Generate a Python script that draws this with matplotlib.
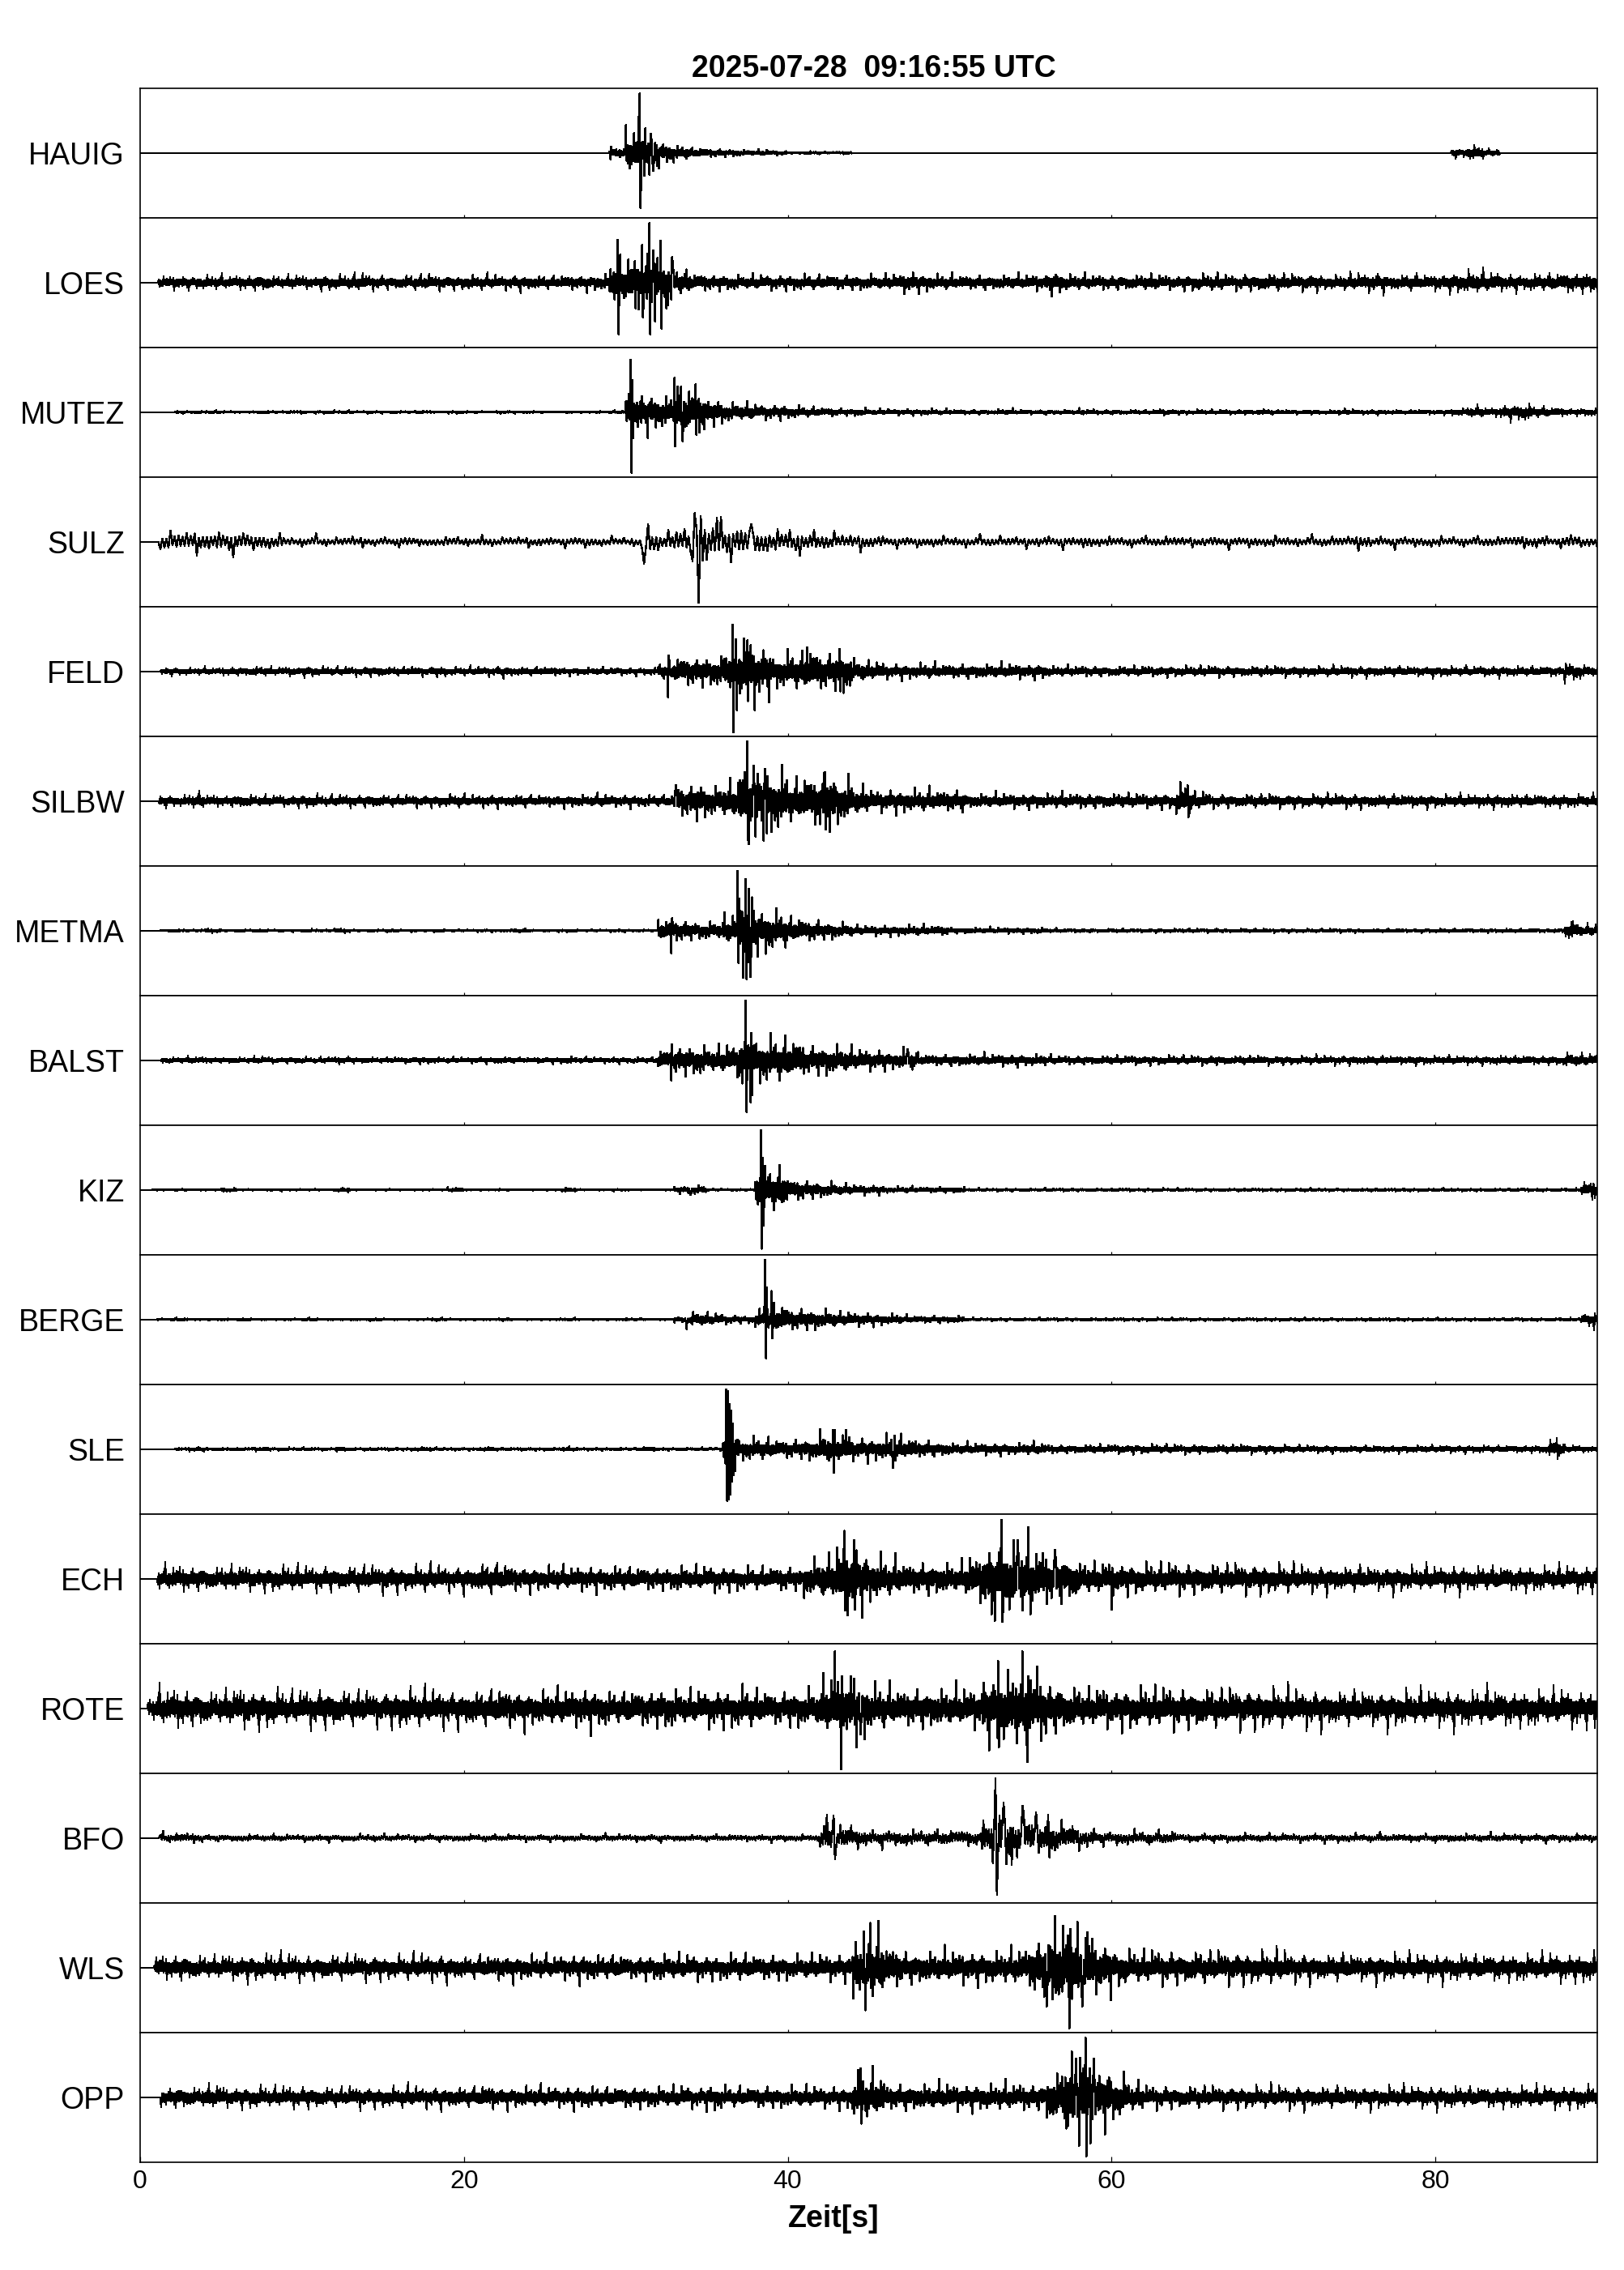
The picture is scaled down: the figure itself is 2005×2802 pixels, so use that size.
import numpy as np
import matplotlib
matplotlib.use('Agg')
from matplotlib import pyplot as plt

plt.rcParams['font.family'] = ['Liberation Sans', 'DejaVu Sans']

TITLE = '2025-07-28  09:16:55 UTC'
XLABEL = 'Zeit[s]'
XTICKS = [0, 20, 40, 60, 80]

stations = ['HAUIG', 'LOES', 'MUTEZ', 'SULZ', 'FELD', 'SILBW', 'METMA', 'BALST',
            'KIZ', 'BERGE', 'SLE', 'ECH', 'ROTE', 'BFO', 'WLS', 'OPP']

# time where each trace starts (flat before)
t_start = [0.0, 1.15, 2.2, 1.2, 1.3, 1.2, 1.3, 1.3, 0.8, 1.0, 2.2, 1.1, 0.5, 1.2, 0.9, 1.3]
# samples per second of the wiggle
rate = [20, 20, 20, 8, 20, 20, 20, 20, 20, 20, 20, 20, 20, 12, 20, 20]

# envelope per second (0..89), fraction of half panel height
env_hauig = ([0.0] * 29 +
             [0.08, 0.3, 0.3, 0.15, 0.1, 0.07, 0.06, 0.05, 0.04, 0.04, 0.03, 0.01, 0.02, 0.015, 0.02] +
             [0.0] * 37 + [0.06, 0.1, 0.05] + [0.0] * 6)
env_loes = [0.06, 0.09, 0.1, 0.09, 0.1, 0.09, 0.1, 0.11, 0.09, 0.1,
            0.09, 0.1, 0.1, 0.12, 0.1, 0.09, 0.1, 0.11, 0.1, 0.09,
            0.1, 0.1, 0.09, 0.1, 0.1, 0.09, 0.1, 0.1, 0.11, 0.3,
            0.35, 0.45, 0.35, 0.18, 0.12, 0.11, 0.1, 0.1, 0.1, 0.1,
            0.1, 0.1, 0.1, 0.1, 0.1, 0.1, 0.11, 0.14, 0.12, 0.1,
            0.1, 0.1, 0.1, 0.1, 0.1, 0.11, 0.15, 0.11, 0.1, 0.1,
            0.1, 0.1, 0.11, 0.1, 0.1, 0.11, 0.12, 0.1, 0.11, 0.12,
            0.12, 0.11, 0.12, 0.1, 0.11, 0.12, 0.13, 0.11, 0.12, 0.11,
            0.12, 0.14, 0.16, 0.14, 0.12, 0.11, 0.12, 0.13, 0.14, 0.14]
env_mutez = [0.01, 0.01, 0.02, 0.015, 0.02, 0.015, 0.01, 0.02, 0.015, 0.02,
             0.015, 0.02, 0.02, 0.015, 0.02, 0.015, 0.015, 0.02, 0.01, 0.02,
             0.015, 0.01, 0.02, 0.015, 0.015, 0.01, 0.015, 0.01, 0.015, 0.02,
             0.3, 0.25, 0.22, 0.35, 0.3, 0.18, 0.13, 0.12, 0.1, 0.1,
             0.08, 0.07, 0.06, 0.05, 0.05, 0.04, 0.04, 0.04, 0.04, 0.035,
             0.035, 0.03, 0.03, 0.04, 0.03, 0.03, 0.03, 0.03, 0.04, 0.03,
             0.03, 0.03, 0.03, 0.04, 0.03, 0.03, 0.03, 0.03, 0.03, 0.04,
             0.03, 0.03, 0.03, 0.03, 0.04, 0.03, 0.03, 0.03, 0.03, 0.03,
             0.03, 0.05, 0.08, 0.06, 0.1, 0.12, 0.08, 0.06, 0.05, 0.05]
env_sulz = [0.05, 0.16, 0.16, 0.17, 0.16, 0.17, 0.16, 0.13, 0.11, 0.07,
            0.08, 0.07, 0.07, 0.08, 0.07, 0.07, 0.08, 0.07, 0.07, 0.08,
            0.07, 0.08, 0.07, 0.07, 0.08, 0.07, 0.07, 0.08, 0.07, 0.07,
            0.07, 0.2, 0.15, 0.2, 0.45, 0.35, 0.25, 0.28, 0.2, 0.18,
            0.2, 0.15, 0.14, 0.12, 0.12, 0.1, 0.08, 0.08, 0.08, 0.08,
            0.08, 0.08, 0.08, 0.08, 0.08, 0.08, 0.08, 0.08, 0.1, 0.08,
            0.08, 0.08, 0.08, 0.08, 0.08, 0.08, 0.08, 0.08, 0.08, 0.08,
            0.08, 0.08, 0.08, 0.08, 0.08, 0.12, 0.08, 0.08, 0.08, 0.08,
            0.08, 0.08, 0.08, 0.08, 0.08, 0.1, 0.1, 0.08, 0.12, 0.08]
env_feld = [0.03, 0.05, 0.05, 0.05, 0.05, 0.06, 0.06, 0.07, 0.06, 0.06,
            0.07, 0.06, 0.06, 0.06, 0.07, 0.06, 0.06, 0.06, 0.07, 0.06,
            0.06, 0.06, 0.07, 0.06, 0.06, 0.06, 0.05, 0.05, 0.05, 0.05,
            0.05, 0.05, 0.12, 0.2, 0.2, 0.2, 0.3, 0.45, 0.35, 0.22,
            0.25, 0.3, 0.25, 0.28, 0.15, 0.13, 0.1, 0.1, 0.1, 0.1,
            0.1, 0.1, 0.1, 0.1, 0.1, 0.1, 0.07, 0.07, 0.07, 0.07,
            0.07, 0.07, 0.07, 0.07, 0.07, 0.07, 0.07, 0.07, 0.07, 0.07,
            0.07, 0.07, 0.07, 0.07, 0.07, 0.07, 0.07, 0.07, 0.07, 0.07,
            0.07, 0.07, 0.07, 0.07, 0.07, 0.07, 0.07, 0.07, 0.12, 0.08]
env_silbw = [0.05, 0.08, 0.08, 0.1, 0.08, 0.08, 0.09, 0.08, 0.08, 0.08,
             0.09, 0.08, 0.08, 0.08, 0.09, 0.08, 0.08, 0.08, 0.08, 0.09,
             0.08, 0.08, 0.08, 0.09, 0.08, 0.08, 0.08, 0.08, 0.09, 0.08,
             0.08, 0.08, 0.08, 0.22, 0.25, 0.2, 0.25, 0.5, 0.45, 0.4,
             0.3, 0.35, 0.4, 0.3, 0.2, 0.15, 0.15, 0.15, 0.15, 0.15,
             0.15, 0.1, 0.1, 0.1, 0.1, 0.1, 0.1, 0.1, 0.1, 0.1,
             0.1, 0.1, 0.1, 0.1, 0.22, 0.12, 0.09, 0.09, 0.09, 0.09,
             0.09, 0.09, 0.09, 0.09, 0.09, 0.09, 0.09, 0.09, 0.09, 0.09,
             0.09, 0.09, 0.09, 0.09, 0.09, 0.09, 0.09, 0.09, 0.09, 0.09]
env_metma = [0.015, 0.015, 0.02, 0.015, 0.03, 0.015, 0.015, 0.02, 0.015, 0.015,
             0.02, 0.015, 0.03, 0.015, 0.015, 0.02, 0.015, 0.015, 0.02, 0.015,
             0.015, 0.02, 0.015, 0.03, 0.015, 0.015, 0.02, 0.015, 0.015, 0.02,
             0.015, 0.015, 0.15, 0.15, 0.12, 0.12, 0.2, 0.55, 0.3, 0.25,
             0.18, 0.15, 0.12, 0.1, 0.07, 0.07, 0.07, 0.07, 0.07, 0.07,
             0.04, 0.04, 0.04, 0.04, 0.04, 0.04, 0.025, 0.025, 0.025, 0.025,
             0.025, 0.025, 0.025, 0.025, 0.025, 0.025, 0.025, 0.025, 0.025, 0.025,
             0.025, 0.025, 0.025, 0.025, 0.025, 0.025, 0.025, 0.025, 0.025, 0.025,
             0.025, 0.025, 0.025, 0.025, 0.025, 0.025, 0.025, 0.025, 0.12, 0.08]
env_balst = [0.03, 0.04, 0.04, 0.05, 0.04, 0.04, 0.04, 0.05, 0.04, 0.04,
             0.04, 0.04, 0.05, 0.04, 0.04, 0.04, 0.04, 0.05, 0.04, 0.04,
             0.04, 0.04, 0.05, 0.04, 0.04, 0.04, 0.05, 0.04, 0.04, 0.04,
             0.04, 0.04, 0.15, 0.2, 0.2, 0.18, 0.2, 0.4, 0.3, 0.3,
             0.28, 0.2, 0.2, 0.18, 0.15, 0.14, 0.12, 0.15, 0.08, 0.08,
             0.08, 0.08, 0.08, 0.08, 0.08, 0.08, 0.06, 0.06, 0.06, 0.06,
             0.06, 0.06, 0.06, 0.06, 0.06, 0.06, 0.06, 0.06, 0.06, 0.06,
             0.06, 0.06, 0.06, 0.06, 0.06, 0.06, 0.06, 0.06, 0.06, 0.06,
             0.06, 0.06, 0.06, 0.06, 0.06, 0.06, 0.06, 0.06, 0.1, 0.08]
env_kiz = [0.01, 0.01, 0.015, 0.01, 0.01, 0.03, 0.01, 0.01, 0.015, 0.01,
           0.01, 0.01, 0.03, 0.01, 0.01, 0.015, 0.01, 0.01, 0.01, 0.03,
           0.01, 0.01, 0.015, 0.01, 0.01, 0.01, 0.03, 0.01, 0.01, 0.015,
           0.01, 0.01, 0.01, 0.05, 0.06, 0.015, 0.015, 0.015, 0.3, 0.3,
           0.15, 0.12, 0.1, 0.08, 0.07, 0.06, 0.04, 0.04, 0.04, 0.04,
           0.04, 0.02, 0.02, 0.02, 0.02, 0.02, 0.02, 0.02, 0.02, 0.02,
           0.02, 0.02, 0.02, 0.02, 0.02, 0.02, 0.02, 0.02, 0.02, 0.02,
           0.02, 0.02, 0.02, 0.02, 0.02, 0.02, 0.02, 0.02, 0.02, 0.02,
           0.02, 0.02, 0.02, 0.02, 0.02, 0.02, 0.02, 0.02, 0.02, 0.1]
env_berge = [0.012, 0.012, 0.02, 0.012, 0.012, 0.012, 0.02, 0.012, 0.012, 0.012,
             0.02, 0.012, 0.012, 0.012, 0.02, 0.012, 0.012, 0.012, 0.02, 0.012,
             0.012, 0.012, 0.02, 0.012, 0.012, 0.012, 0.02, 0.012, 0.012, 0.012,
             0.02, 0.012, 0.012, 0.04, 0.1, 0.08, 0.06, 0.05, 0.12, 0.2,
             0.15, 0.14, 0.12, 0.1, 0.09, 0.08, 0.07, 0.05, 0.05, 0.05,
             0.05, 0.02, 0.02, 0.02, 0.02, 0.02, 0.02, 0.02, 0.02, 0.02,
             0.02, 0.02, 0.02, 0.02, 0.02, 0.02, 0.02, 0.02, 0.02, 0.02,
             0.02, 0.02, 0.02, 0.02, 0.02, 0.02, 0.02, 0.02, 0.02, 0.02,
             0.02, 0.02, 0.02, 0.02, 0.02, 0.02, 0.02, 0.02, 0.02, 0.08]
env_sle = [0.02, 0.02, 0.02, 0.03, 0.02, 0.02, 0.02, 0.03, 0.02, 0.02,
           0.02, 0.02, 0.03, 0.02, 0.02, 0.02, 0.02, 0.03, 0.02, 0.02,
           0.02, 0.03, 0.02, 0.02, 0.02, 0.02, 0.03, 0.02, 0.02, 0.02,
           0.02, 0.03, 0.02, 0.02, 0.02, 0.02, 0.25, 0.15, 0.15, 0.13,
           0.13, 0.15, 0.22, 0.2, 0.15, 0.15, 0.18, 0.15, 0.12, 0.1,
           0.08, 0.08, 0.08, 0.08, 0.08, 0.08, 0.06, 0.06, 0.06, 0.06,
           0.06, 0.06, 0.06, 0.06, 0.06, 0.06, 0.06, 0.06, 0.06, 0.06,
           0.06, 0.05, 0.05, 0.05, 0.05, 0.05, 0.05, 0.05, 0.05, 0.05,
           0.05, 0.05, 0.05, 0.05, 0.05, 0.05, 0.05, 0.12, 0.05, 0.04]
env_ech = [0.05, 0.16, 0.18, 0.17, 0.16, 0.18, 0.17, 0.16, 0.17, 0.18,
           0.16, 0.17, 0.16, 0.18, 0.17, 0.19, 0.16, 0.18, 0.17, 0.16,
           0.17, 0.22, 0.2, 0.17, 0.16, 0.17, 0.16, 0.17, 0.16, 0.17,
           0.16, 0.16, 0.15, 0.17, 0.16, 0.17, 0.16, 0.15, 0.16, 0.17,
           0.16, 0.25, 0.3, 0.45, 0.4, 0.3, 0.25, 0.22, 0.22, 0.22,
           0.2, 0.3, 0.45, 0.5, 0.5, 0.4, 0.35, 0.3, 0.22, 0.22,
           0.22, 0.2, 0.2, 0.2, 0.2, 0.2, 0.2, 0.2, 0.2, 0.2,
           0.2, 0.18, 0.17, 0.18, 0.17, 0.18, 0.17, 0.18, 0.17, 0.18,
           0.17, 0.18, 0.17, 0.18, 0.17, 0.18, 0.17, 0.18, 0.17, 0.18]
env_rote = [0.18, 0.25, 0.27, 0.25, 0.23, 0.25, 0.27, 0.25, 0.25, 0.23,
            0.25, 0.27, 0.25, 0.25, 0.23, 0.25, 0.27, 0.25, 0.25, 0.23,
            0.25, 0.25, 0.27, 0.25, 0.23, 0.25, 0.25, 0.27, 0.25, 0.23,
            0.25, 0.25, 0.27, 0.25, 0.23, 0.25, 0.25, 0.27, 0.25, 0.23,
            0.25, 0.25, 0.4, 0.45, 0.4, 0.3, 0.27, 0.27, 0.27, 0.27,
            0.27, 0.27, 0.45, 0.5, 0.55, 0.45, 0.35, 0.3, 0.27, 0.27,
            0.27, 0.27, 0.27, 0.27, 0.27, 0.27, 0.27, 0.27, 0.27, 0.27,
            0.27, 0.25, 0.25, 0.25, 0.25, 0.25, 0.25, 0.25, 0.25, 0.25,
            0.25, 0.25, 0.25, 0.27, 0.25, 0.25, 0.25, 0.25, 0.25, 0.25]
env_bfo = [0.04, 0.07, 0.07, 0.07, 0.05, 0.05, 0.05, 0.05, 0.05, 0.05,
           0.05, 0.05, 0.05, 0.05, 0.05, 0.05, 0.05, 0.05, 0.05, 0.05,
           0.05, 0.05, 0.05, 0.05, 0.05, 0.05, 0.05, 0.05, 0.05, 0.05,
           0.05, 0.05, 0.05, 0.05, 0.05, 0.05, 0.05, 0.05, 0.05, 0.05,
           0.05, 0.05, 0.25, 0.2, 0.15, 0.12, 0.12, 0.12, 0.12, 0.12,
           0.12, 0.12, 0.3, 0.4, 0.3, 0.28, 0.25, 0.2, 0.15, 0.1,
           0.1, 0.1, 0.1, 0.1, 0.06, 0.06, 0.06, 0.06, 0.06, 0.06,
           0.06, 0.06, 0.06, 0.06, 0.06, 0.06, 0.06, 0.06, 0.06, 0.06,
           0.06, 0.06, 0.06, 0.06, 0.06, 0.06, 0.06, 0.06, 0.06, 0.06]
env_wls = [0.1, 0.17, 0.18, 0.17, 0.16, 0.17, 0.18, 0.17, 0.2, 0.17,
           0.16, 0.17, 0.18, 0.17, 0.17, 0.16, 0.17, 0.18, 0.17, 0.17,
           0.16, 0.17, 0.18, 0.17, 0.17, 0.16, 0.17, 0.18, 0.17, 0.17,
           0.16, 0.17, 0.18, 0.17, 0.17, 0.16, 0.17, 0.18, 0.17, 0.17,
           0.16, 0.17, 0.18, 0.17, 0.4, 0.45, 0.3, 0.22, 0.22, 0.22,
           0.22, 0.22, 0.22, 0.22, 0.25, 0.4, 0.55, 0.55, 0.45, 0.35,
           0.25, 0.22, 0.22, 0.22, 0.22, 0.22, 0.22, 0.22, 0.22, 0.22,
           0.22, 0.19, 0.19, 0.19, 0.19, 0.19, 0.19, 0.19, 0.19, 0.19,
           0.19, 0.19, 0.19, 0.19, 0.19, 0.19, 0.19, 0.19, 0.19, 0.19]
env_opp = [0.05, 0.14, 0.15, 0.14, 0.17, 0.14, 0.14, 0.15, 0.14, 0.14,
           0.15, 0.14, 0.14, 0.15, 0.14, 0.14, 0.15, 0.14, 0.14, 0.15,
           0.14, 0.17, 0.14, 0.14, 0.15, 0.14, 0.14, 0.15, 0.14, 0.14,
           0.15, 0.14, 0.14, 0.15, 0.14, 0.17, 0.14, 0.14, 0.15, 0.14,
           0.14, 0.15, 0.14, 0.14, 0.3, 0.3, 0.18, 0.18, 0.18, 0.18,
           0.18, 0.18, 0.18, 0.18, 0.18, 0.18, 0.35, 0.55, 0.6, 0.4,
           0.3, 0.2, 0.15, 0.15, 0.15, 0.15, 0.15, 0.15, 0.15, 0.15,
           0.15, 0.15, 0.15, 0.15, 0.15, 0.15, 0.15, 0.15, 0.15, 0.15,
           0.15, 0.15, 0.15, 0.15, 0.15, 0.15, 0.15, 0.15, 0.15, 0.15]

envelopes = [env_hauig, env_loes, env_mutez, env_sulz, env_feld, env_silbw, env_metma,
             env_balst, env_kiz, env_berge, env_sle, env_ech, env_rote, env_bfo,
             env_wls, env_opp]

# big peaks (time in s, amplitude)
spikes_hauig = [(29.05, -0.1), (30.8, 0.55), (30.85, 0.92), (30.9, -0.85), (30.95, -0.45),
                (31.2, 0.38), (31.45, -0.34), (31.55, 0.3), (31.7, -0.28)]
spikes_loes = [(29.5, 0.66), (29.55, -0.8), (30.6, -0.4), (31.0, 0.58), (31.05, -0.54),
               (31.45, 0.92), (31.5, -0.8), (31.7, 0.5), (31.8, -0.6), (32.15, 0.65),
               (32.2, -0.71), (32.5, -0.4), (32.9, 0.31)]
spikes_mutez = [(30.3, 0.81), (30.35, -0.94), (30.4, 0.5), (30.45, -0.4), (33.0, 0.53),
                (33.05, -0.53), (33.2, 0.4), (33.5, -0.45), (34.3, 0.43), (34.35, -0.35)]
spikes_sulz = [(31.1, -0.34), (34.1, -0.3), (34.3, 0.44), (34.45, -0.94), (34.6, 0.4),
               (35.9, 0.38), (37.7, 0.27)]
spikes_feld = [(32.6, -0.4), (32.65, 0.25), (36.6, 0.72), (36.65, -0.94), (36.8, 0.5),
               (36.85, -0.6), (37.5, 0.48), (37.55, -0.46), (41.2, 0.37), (43.2, 0.35),
               (43.25, -0.31), (88.0, -0.19), (88.05, 0.12)]
spikes_silbw = [(33.1, 0.25), (37.5, 0.92), (37.55, -0.6), (37.9, 0.55), (38.0, -0.55),
                (38.6, 0.5), (38.7, -0.5), (42.3, 0.44), (42.35, -0.44), (64.7, 0.25),
                (64.75, -0.25)]
spikes_metma = [(32.8, -0.35), (32.85, 0.19), (36.9, 0.92), (36.95, -0.5), (37.4, 0.8),
                (37.45, -0.75), (37.6, 0.65), (37.7, -0.72), (88.4, 0.13)]
spikes_balst = [(32.8, -0.31), (32.85, 0.25), (37.4, 0.92), (37.45, -0.8), (37.7, -0.65),
                (37.75, 0.42), (47.4, 0.17)]
spikes_kiz = [(34.0, -0.08), (38.35, 0.92), (38.4, -0.91), (38.45, 0.5), (38.5, -0.55),
              (38.6, 0.37), (89.7, -0.15), (89.75, 0.1)]
spikes_berge = [(33.75, -0.15), (38.6, 0.92), (38.65, -0.6), (38.7, 0.5), (39.0, 0.44),
                (39.05, -0.29), (89.8, -0.17), (89.85, 0.1)]
spikes_sle = [(36.2, 0.92), (36.25, -0.8), (36.3, 0.9), (36.35, -0.78), (36.4, 0.7),
              (36.45, -0.7), (36.5, 0.6), (36.55, -0.5), (36.6, 0.4), (36.65, -0.4),
              (42.8, 0.3), (42.85, -0.37), (43.6, 0.3), (46.5, -0.29), (46.6, 0.21),
              (87.5, 0.17), (87.55, -0.15)]
spikes_ech = [(43.5, 0.74), (43.55, -0.49), (44.1, 0.6), (44.15, -0.48), (52.6, -0.55),
              (53.2, 0.91), (53.25, -0.67), (54.2, 0.6), (55.0, -0.55), (56.5, 0.45),
              (60.0, -0.48)]
spikes_rote = [(42.9, 0.88), (43.3, -0.94), (43.35, 0.5), (44.1, 0.46), (44.5, -0.4),
               (53.0, 0.73), (53.05, -0.6), (54.8, -0.83), (54.85, 0.5), (55.4, 0.65),
               (83.2, 0.4)]
spikes_bfo = [(42.8, 0.35), (42.9, -0.33), (52.8, 0.92), (52.9, -0.88), (53.3, 0.54),
              (53.8, -0.42), (54.5, 0.5), (55.3, 0.4), (56.2, -0.3)]
spikes_wls = [(44.2, 0.4), (44.8, -0.66), (45.1, 0.69), (56.0, -0.6), (56.5, 0.8),
              (57.0, 0.65), (57.4, -0.94), (57.45, 0.6), (58.2, -0.6), (58.5, 0.55)]
spikes_opp = [(44.5, 0.45), (44.55, -0.41), (57.3, -0.45), (57.8, 0.6), (58.0, -0.75),
              (58.4, 0.92), (58.45, -0.91), (58.9, 0.6)]

spikes = [spikes_hauig, spikes_loes, spikes_mutez, spikes_sulz, spikes_feld, spikes_silbw,
          spikes_metma, spikes_balst, spikes_kiz, spikes_berge, spikes_sle, spikes_ech,
          spikes_rote, spikes_bfo, spikes_wls, spikes_opp]

# wiggle shape factors (mostly moderate swings, a few big ones)
pat_a = [0.45, 0.65, 0.4, 1.0, 0.5, 0.55, 0.35, 0.75, 1.4, 0.45, 0.6, 0.4, 0.65, 0.5,
         0.9, 0.45, 0.35, 0.7, 0.55, 1.1, 0.45, 0.6, 0.4, 0.5, 0.75, 0.45, 1.6, 0.55,
         0.4, 0.65, 0.5, 0.85, 0.45, 0.6, 0.35, 0.55, 1.2, 0.45, 0.65, 0.5, 0.75]
pat_b = [1.0, 0.8, 0.9, 0.75, 1.0, 0.85, 0.7, 0.95, 0.8, 1.0, 0.9, 0.75, 0.85]


def make_trace(i):
    t = np.arange(0, 90 * rate[i] + 1) / rate[i]
    sec = np.minimum(t.astype(int), 89)
    amp = np.array(envelopes[i])[sec]
    k = np.arange(len(t)) + 7 * i
    sign = np.where(k % 2 == 0, 1.0, -1.0)
    y = sign * amp * np.array(pat_a)[k % len(pat_a)] * np.array(pat_b)[k % len(pat_b)]
    y[t < t_start[i]] = 0.0
    for ts, v in spikes[i]:
        y[np.argmin(np.abs(t - ts))] = v
    return t, y


W, H = 2005, 2802
left, right = 173, 1972
top, panel_h = 108.7, 160.0

fig = plt.figure(figsize=(W / 100, H / 100), dpi=100)
n = len(stations)
for i, name in enumerate(stations):
    y0 = top + panel_h * (i + 1)
    ax = fig.add_axes([left / W, 1 - y0 / H, (right - left) / W, panel_h / H])
    t, y = make_trace(i)
    ax.plot(t, y, color='black', lw=1.0, antialiased=False)
    ax.set_xlim(0, 90)
    ax.set_ylim(-1, 1)
    ax.set_yticks([])
    for sp in ax.spines.values():
        sp.set_linewidth(1.2)
    if i == n - 1:
        ax.set_xticks(XTICKS)
        ax.tick_params(axis='x', direction='in', length=5, width=0.9, pad=7, labelsize=23)
    else:
        ax.set_xticks(XTICKS[1:])
        ax.tick_params(axis='x', direction='in', length=3, width=0.9, labelbottom=False)
    ax.annotate(name, xy=(0, 0.5), xycoords='axes fraction', xytext=(-13.8, -10),
                textcoords='offset points', ha='right', va='baseline', fontsize=27)

fig.text(1079 / W, 1 - 95 / H, TITLE, ha='center', va='baseline', fontsize=27, weight='bold')
fig.text(1029 / W, 1 - 2749 / H, XLABEL, ha='center', va='baseline', fontsize=27, weight='bold')

fig.savefig('out.png', dpi=100)
